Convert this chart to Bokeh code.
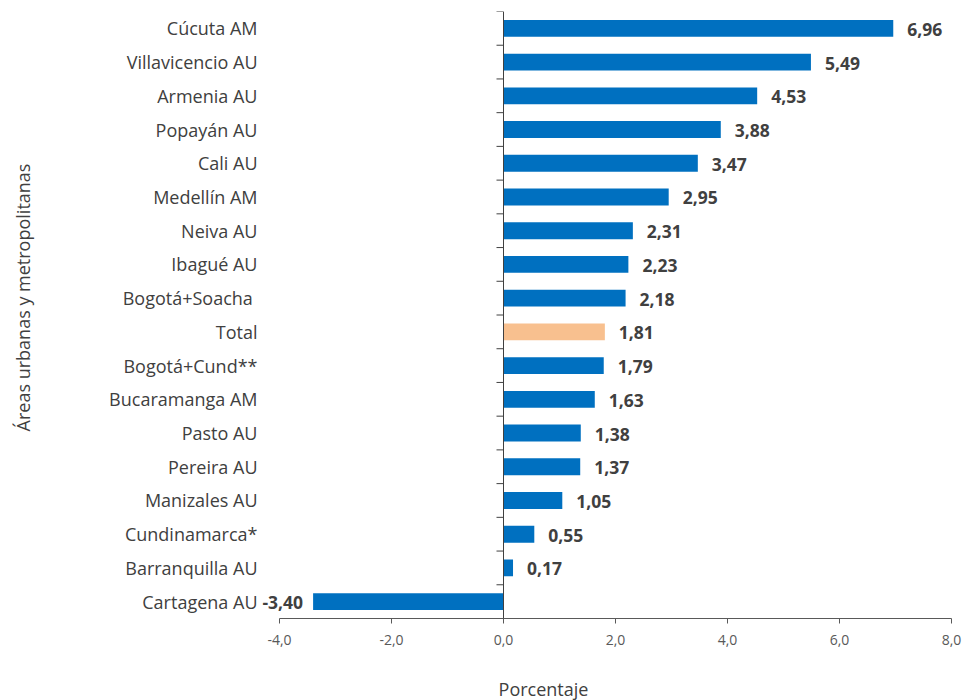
import math
from bokeh.plotting import figure
from bokeh.models import Range1d, FixedTicker, Span, ColumnDataSource
from bokeh.core.properties import value
from bokeh.embed import file_html
from bokeh.resources import INLINE

categories = ["Cúcuta AM", "Villavicencio AU", "Armenia AU", "Popayán AU", "Cali AU",
              "Medellín AM", "Neiva AU", "Ibagué AU", "Bogotá+Soacha ", "Total",
              "Bogotá+Cund**", "Bucaramanga AM", "Pasto AU", "Pereira AU",
              "Manizales AU", "Cundinamarca*", "Barranquilla AU", "Cartagena AU"]
values = [6.96, 5.49, 4.53, 3.88, 3.47, 2.95, 2.31, 2.23, 2.18, 1.81,
          1.79, 1.63, 1.38, 1.37, 1.05, 0.55, 0.17, -3.40]
xticks = [-4, -2, 0, 2, 4, 6, 8]
xtick_labels = ["-4,0", "-2,0", "0,0", "2,0", "4,0", "6,0", "8,0"]
x_title = "Porcentaje"
y_title = "Áreas urbanas y metropolitanas"

BLUE = "#0070C0"
PEACH = "#F8C08F"
TXT = "#404040"
FONT = "Open Sans"

n = len(categories)
ypos = [i + 0.5 for i in range(n)]
colors = [PEACH if c == "Total" else BLUE for c in categories]
labels = [f"{v:.2f}".replace(".", ",") for v in values]

W, H = 964, 700
p = figure(width=W, height=H, output_backend="svg", toolbar_location=None,
           x_range=Range1d(xticks[0], xticks[-1]), y_range=Range1d(n, 0),
           min_border_left=279, min_border_right=13, min_border_top=11,
           min_border_bottom=82)
p.outline_line_color = None
p.grid.visible = False
p.background_fill_color = "white"
p.border_fill_color = "white"

src = ColumnDataSource(dict(y=ypos, right=values, color=colors, label=labels))
p.hbar(y="y", left=0, right="right", height=0.5, fill_color="color",
       line_color=None, source=src)

# zero line with category boundary ticks
p.add_layout(Span(location=0, dimension="height", line_color=TXT, line_width=1))
bounds = list(range(n + 1))
p.segment(x0=[-0.125] * len(bounds), x1=[0] * len(bounds), y0=bounds, y1=bounds,
          line_color=TXT, line_width=1)

# value labels
pos = [i for i, v in enumerate(values) if v >= 0]
neg = [i for i, v in enumerate(values) if v < 0]
p.text(x=[values[i] for i in pos], y=[ypos[i] for i in pos],
       text=[labels[i] for i in pos], x_offset=14, y_offset=1,
       text_align="left", text_baseline="middle", text_font=value(FONT),
       text_font_style="bold", text_font_size="17.5px", text_color=TXT,
       level="overlay")
p.text(x=[values[i] for i in neg], y=[ypos[i] for i in neg],
       text=[labels[i] for i in neg], x_offset=-10, y_offset=1,
       text_align="right", text_baseline="middle", text_font=value(FONT),
       text_font_style="bold", text_font_size="17.5px", text_color=TXT,
       level="overlay")

# axis titles, anchored at the bottom-left corner of the axes (x=-4, y=n)
p.text(x=[xticks[0]], y=[n], text=[x_title], x_offset=264, y_offset=70,
       text_align="center", text_baseline="middle", text_font=value(FONT),
       text_font_size="18px", text_color=TXT, level="overlay")
p.text(x=[xticks[0]], y=[n], text=[y_title], x_offset=-257, y_offset=-321,
       angle=math.pi / 2, text_align="center", text_baseline="middle",
       text_font=value(FONT), text_font_size="18px", text_color=TXT,
       level="overlay")

# x axis
xa = p.xaxis[0]
xa.ticker = FixedTicker(ticks=xticks)
xa.major_label_overrides = {float(t): l for t, l in zip(xticks, xtick_labels)}
xa.minor_tick_line_color = None
xa.major_tick_in = 0
xa.major_tick_out = 5
xa.axis_line_color = "#595959"
xa.major_tick_line_color = "#595959"
xa.major_label_text_font = FONT
xa.major_label_text_font_size = "14px"
xa.major_label_text_color = "#595959"
xa.major_label_standoff = 11

# y axis (category labels)
ya = p.yaxis[0]
ya.ticker = FixedTicker(ticks=ypos)
ya.major_label_overrides = {y: c for y, c in zip(ypos, categories)}
ya.minor_tick_line_color = None
ya.major_tick_line_color = None
ya.axis_line_color = None
ya.major_tick_in = 0
ya.major_tick_out = 0
ya.major_label_standoff = 22
ya.major_label_text_font = FONT
ya.major_label_text_font_size = "18px"
ya.major_label_text_color = TXT

open("out.html", "w").write(file_html(p, INLINE))
